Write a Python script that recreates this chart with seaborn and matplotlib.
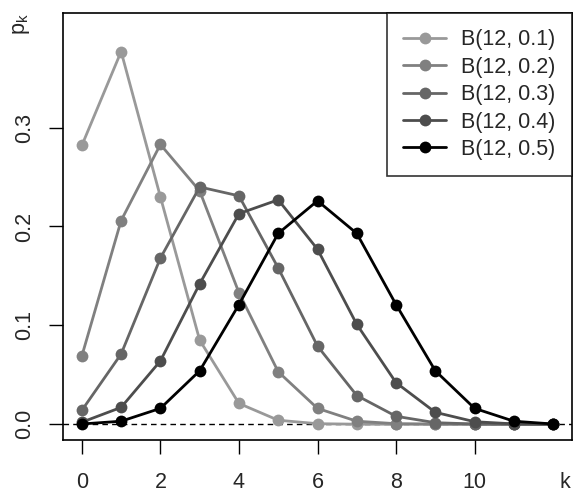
import numpy as np
import pandas as pd
import matplotlib
matplotlib.use("Agg")
import matplotlib.pyplot as plt
import seaborn as sns

#%%
'''DATA'''
k = list(range(13))
p01 = [0.282, 0.377, 0.230, 0.085, 0.021, 0.004, 0.0005, 0.0, 0.0, 0.0, 0.0, 0.0, 0.0]
p02 = [0.069, 0.206, 0.283, 0.236, 0.133, 0.053, 0.016, 0.003, 0.0005, 0.0001, 0.0, 0.0, 0.0]
p03 = [0.014, 0.071, 0.168, 0.240, 0.231, 0.158, 0.079, 0.029, 0.008, 0.0015, 0.0002, 0.0, 0.0]
p04 = [0.002, 0.017, 0.064, 0.142, 0.213, 0.227, 0.177, 0.101, 0.042, 0.012, 0.0025, 0.0003, 0.0]
p05 = [0.0002, 0.003, 0.016, 0.054, 0.121, 0.193, 0.226, 0.193, 0.121, 0.054, 0.016, 0.003, 0.0002]
labels = ['B(12, 0.1)', 'B(12, 0.2)', 'B(12, 0.3)', 'B(12, 0.4)', 'B(12, 0.5)']
colors = ['#999999', '#808080', '#666666', '#4d4d4d', '#000000']
xticks = [0, 2, 4, 6, 8, 10]
yticks = [0.0, 0.1, 0.2, 0.3]

df = pd.concat([pd.DataFrame({'k': k, 'p': p, 'dist': lab})
                for p, lab in zip([p01, p02, p03, p04, p05], labels)])

#%%
'''PLOT'''
sns.set_style('ticks')
plt.rcParams['font.family'] = ['Liberation Sans', 'DejaVu Sans']
fs = 15.5

fig = plt.figure(figsize = (5.73, 4.92), dpi = 100)
ax = fig.add_axes([63/573, 1 - 440/492, (572-63)/573, (440-13)/492])

ax.axhline(0, color = 'black', lw = 1, ls = (0, (4, 3)), zorder = 0)

sns.lineplot(data = df, x = 'k', y = 'p', hue = 'dist',
             palette = dict(zip(labels, colors)),
             marker = 'o', markersize = 8.5, markeredgewidth = 0,
             lw = 2, ax = ax, legend = False)

ax.set_xlim(-0.48, 12.48)
ax.set_ylim(-0.016, 0.416)
# 'k' sits in the tick-label row at the far right, without a tick mark
ax.set_xticks(xticks + [12.3])
ax.set_xticklabels([str(t) for t in xticks] + ['k'])
ax.xaxis.get_major_ticks()[-1].tick1line.set_visible(False)
ax.set_yticks(yticks)
ax.set_yticklabels(['%.1f' % t for t in yticks], rotation = 90, va = 'center')
ax.tick_params(axis = 'both', labelsize = fs, length = 10, width = 1, color = 'black')
ax.tick_params(axis = 'x', pad = 13)
ax.tick_params(axis = 'y', pad = 10)
ax.set_xlabel('')
ax.set_ylabel('')
for s in ax.spines.values():
    s.set_linewidth(1.2)
    s.set_color('black')

fig.text(22/573, 1 - 24/492, r'p$_\mathregular{k}$', fontsize = fs, rotation = 90,
         ha = 'center', va = 'center')

handles = [plt.Line2D([], [], color = c, lw = 2, marker = 'o', markersize = 8.5,
                      markeredgewidth = 0) for c in colors]
leg = ax.legend(handles, labels, loc = 'upper right', fontsize = fs,
                frameon = True, fancybox = False, borderaxespad = 0,
                handlelength = 2.0, labelspacing = 0.3, handletextpad = 0.7,
                borderpad = 0.75)
leg.get_frame().set_edgecolor('black')
leg.get_frame().set_linewidth(1.2)

fig.savefig('out.png', dpi = 100)
